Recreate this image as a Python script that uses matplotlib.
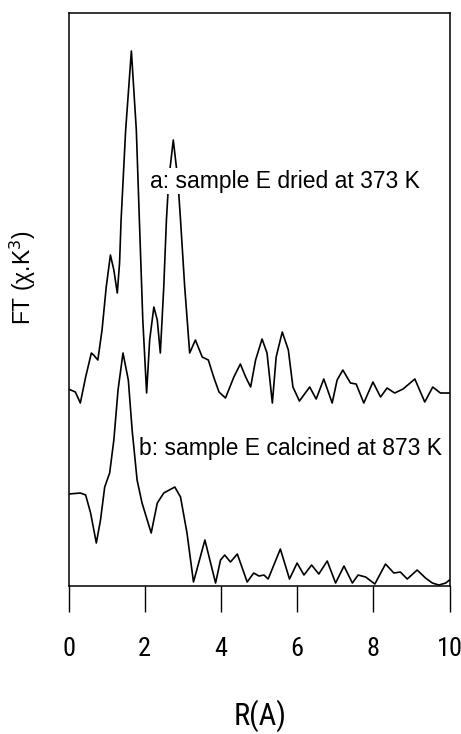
import numpy as np
import matplotlib
matplotlib.use("Agg")
from matplotlib import pyplot as plt

# R values (A) and FT magnitudes (arbitrary units)
r_a = [0.00, 0.18, 0.31, 0.45, 0.60, 0.66, 0.77, 0.88, 0.99, 1.10, 1.19, 1.28, 1.34, 1.38,
       1.50, 1.65, 1.78, 1.86, 1.95, 2.05, 2.13, 2.24, 2.33, 2.41, 2.50, 2.57, 2.63, 2.75,
       2.87, 2.94, 3.05, 3.18, 3.33, 3.51, 3.67, 3.81, 3.95, 4.12, 4.34, 4.51, 4.65, 4.78,
       4.91, 5.08, 5.21, 5.35, 5.45, 5.61, 5.77, 5.89, 6.06, 6.33, 6.50, 6.70, 6.92, 7.05,
       7.20, 7.40, 7.55, 7.75, 7.99, 8.19, 8.36, 8.56, 8.78, 9.09, 9.35, 9.56, 9.76, 10.0]
ft_a = [197, 194, 183, 209, 233, 231, 226, 256, 299, 331, 316, 293, 323, 366,
        456, 535, 456, 366, 266, 193, 246, 279, 266, 233, 299, 366, 406, 446,
        406, 366, 299, 233, 246, 229, 226, 209, 194, 188, 209, 222, 209, 199,
        226, 247, 233, 183, 229, 254, 236, 199, 185, 199, 187, 207, 183, 206,
        216, 203, 202, 183, 204, 189, 198, 193, 197, 207, 184, 199, 193, 193]

r_b = [0.00, 0.31, 0.45, 0.58, 0.73, 0.84, 0.95, 1.08, 1.19, 1.30, 1.43, 1.57, 1.67, 1.80,
       1.93, 2.17, 2.33, 2.50, 2.79, 2.94, 3.11, 3.28, 3.58, 3.86, 3.99, 4.10, 4.25, 4.43,
       4.69, 4.86, 5.00, 5.13, 5.24, 5.56, 5.80, 6.00, 6.18, 6.38, 6.57, 6.79, 7.01, 7.23,
       7.45, 7.60, 7.80, 8.04, 8.32, 8.54, 8.71, 8.89, 9.15, 9.37, 9.55, 9.72, 9.90, 10.0]
ft_b = [92, 93, 91, 73, 43, 66, 99, 113, 146, 196, 233, 206, 156, 106,
        83, 53, 83, 93, 99, 89, 53, 4, 46, 3, 26, 31, 24, 32,
        4, 13, 10, 11, 7, 37, 7, 23, 11, 21, 12, 25, 3, 20,
        3, 11, 9, 2, 22, 13, 14, 7, 16, 8, 3, 1, 3, 6]

xticks = [0, 2, 4, 6, 8, 10]
label_a = "a: sample E dried at 373 K"
label_b = "b: sample E calcined at 873 K"

narrow = ['Roboto Condensed', 'Archivo Narrow', 'DejaVu Sans']
plain = ['Liberation Sans', 'DejaVu Sans']

fig = plt.figure(figsize=(4.61, 7.34), dpi=100)
ax = fig.add_axes([0.1486, 0.2016, 0.8265, 0.7807])

ax.plot(r_a, ft_a, color='black', lw=1.2, solid_joinstyle='round')
ax.plot(r_b, ft_b, color='black', lw=1.2, solid_joinstyle='round')

ax.set_xlim(0, 10)
ax.set_ylim(0, 573)
ax.set_yticks([])
ax.set_xticks(xticks)
ax.set_xticklabels([str(t) for t in xticks], family=narrow, fontsize=19)
ax.tick_params(axis='x', direction='out', length=19, width=1, pad=18)

for s in ax.spines.values():
    s.set_linewidth(1.1)

# labels sit on a white box, hiding the curve behind them
box = dict(facecolor='white', edgecolor='none', pad=1)
ax.text(2.14, 405, label_a, family=plain, fontsize=16.5, va='center', ha='left', bbox=box)
ax.text(1.86, 138, label_b, family=plain, fontsize=16.5, va='center', ha='left', bbox=box)

ax.set_xlabel("R(A)", family=narrow, fontsize=22)
ax.xaxis.set_label_coords(0.503, -0.198)
ax.set_ylabel("FT (χ.K$^3$)", family=plain, fontsize=16.5)
ax.yaxis.set_label_coords(-0.08, 0.539)

fig.savefig("out.png", dpi=100)
